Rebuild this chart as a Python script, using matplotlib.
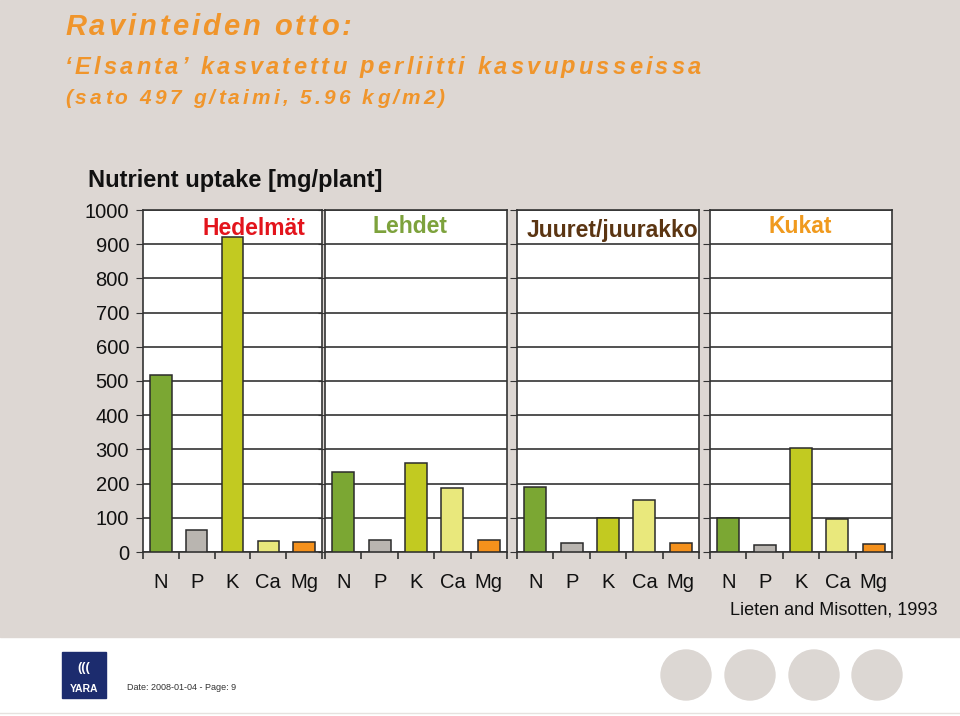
import matplotlib.pyplot as plt
from matplotlib.patches import Rectangle, Ellipse

plt.rcParams['font.family'] = ['Liberation Sans', 'DejaVu Sans']

# data (mg/plant)
nutrients = ['N', 'P', 'K', 'Ca', 'Mg']
parts = ['Hedelmät', 'Lehdet', 'Juuret/juurakko', 'Kukat']
fruit = [518, 64, 921, 32, 29]
leaves = [235, 36, 261, 186, 36]
roots = [190, 27, 99, 152, 27]
flowers = [99, 20, 305, 96, 23]
uptake = [fruit, leaves, roots, flowers]
yticks = list(range(0, 1001, 100))

bar_colors = ['#7ba733', '#b9b5b0', '#c2ca21', '#e9e87c', '#f5911c']
part_colors = ['#e3141c', '#7da23c', '#5b3512', '#f09a1e']

W, H = 960, 716
BG = '#ddd7d3'

fig = plt.figure(figsize=(W / 100, H / 100), dpi=100)
fig.patch.set_facecolor('white')
renderer = fig.canvas.get_renderer()

# slide background
bg = fig.add_axes([0, 0, 1, 1])
bg.set_xlim(0, W)
bg.set_ylim(H, 0)
bg.axis('off')
bg.add_patch(Rectangle((0, 0), W, 637, color=BG, zorder=0))
bg.plot([0, W], [713, 713], color='#e6e2df', lw=1)


def text_width(s, **kw):
    t = bg.text(0, 0, s + '|', **kw)
    w = t.get_window_extent(renderer).width
    t.remove()
    t = bg.text(0, 0, '|', **kw)
    w -= t.get_window_extent(renderer).width
    t.remove()
    return w


def spaced_text(x, y, s, spacing, **kw):
    # headline on the slide is letter-spaced, so place char by char
    for k, ch in enumerate(s):
        bg.text(x + text_width(s[:k], **kw) + k * spacing, y, ch,
                va='center', **kw)


head = dict(color='#f0952b', style='italic', fontweight='bold')
spaced_text(65, 27, 'Ravinteiden otto:', 3.0, fontsize=21, **head)
spaced_text(65, 67, '‘Elsanta’ kasvatettu perliitti kasvupusseissa', 3.25,
            fontsize=17, **head)
spaced_text(65, 98, '(sato 497 g/taimi, 5.96 kg/m2)', 3.15,
            fontsize=15, **head)

bg.text(88, 180, 'Nutrient uptake [mg/plant]', color='#111111',
        fontsize=17, fontweight='bold', va='center')
bg.text(938, 610, 'Lieten and Misotten, 1993', color='#111111',
        fontsize=13, ha='right', va='center')

# footer
bg.add_patch(Rectangle((62, 652), 44, 46, color='#1c2c6e', zorder=2))
bg.text(84, 668, '(((', color='white', fontsize=9, ha='center',
        va='center', fontweight='bold', zorder=3)
bg.text(84, 689, 'YARA', color='white', fontsize=7.5, ha='center',
        va='center', fontweight='bold', zorder=3)
bg.text(127, 688, 'Date: 2008-01-04 - Page: 9', color='#333333',
        fontsize=6.5, va='center')
for cx in [686, 750, 814, 877]:
    bg.add_patch(Ellipse((cx, 675), 50, 50, color='#dcd7d3', zorder=1))

# panels: left, right pixel edges
panels = [(143, 322), (325, 507), (517, 699), (710, 892)]
title_x = [254, 410, 612, 800]
title_y = [229, 227, 231, 227]
title_size = [16.5, 16.5, 16.5, 16.5]
top, bottom = 210, 552
x = list(range(len(nutrients)))

for i, ((x0, x1), vals) in enumerate(zip(panels, uptake)):
    ax = fig.add_axes([x0 / W, 1 - bottom / H, (x1 - x0) / W, (bottom - top) / H])
    ax.set_facecolor('white')
    ax.bar(x, vals, width=0.6, color=bar_colors, edgecolor='#2b2b2b',
           linewidth=1.1, zorder=3)
    ax.set_xlim(-0.5, len(nutrients) - 0.5)
    ax.set_ylim(0, 1000)
    ax.set_yticks(yticks)
    ax.grid(axis='y', color='#333333', lw=1.2, zorder=1)
    for s in ax.spines.values():
        s.set_color('#333333')
        s.set_linewidth(1.2)
    ax.tick_params(axis='y', direction='out', length=5, color='#333333',
                   labelsize=14.5, labelcolor='#111111', pad=5)
    if i > 0:
        ax.set_yticklabels([])
    ax.set_xticks(x)
    ax.set_xticklabels(nutrients, fontsize=14.5, color='#111111')
    ax.tick_params(axis='x', which='major', length=0, pad=15)
    ax.set_xticks([k + 0.5 for k in range(-1, len(nutrients))], minor=True)
    ax.tick_params(axis='x', which='minor', direction='out', length=5,
                   color='#333333', width=1.2)

# panel titles sit on top of the bars (figure level, above all axes)
for i, name in enumerate(parts):
    fig.text(title_x[i] / W, 1 - title_y[i] / H, name, ha='center',
             va='center', color=part_colors[i], fontsize=title_size[i],
             fontweight='bold', zorder=5)

plt.savefig('out.png', dpi=100, facecolor=fig.get_facecolor())
